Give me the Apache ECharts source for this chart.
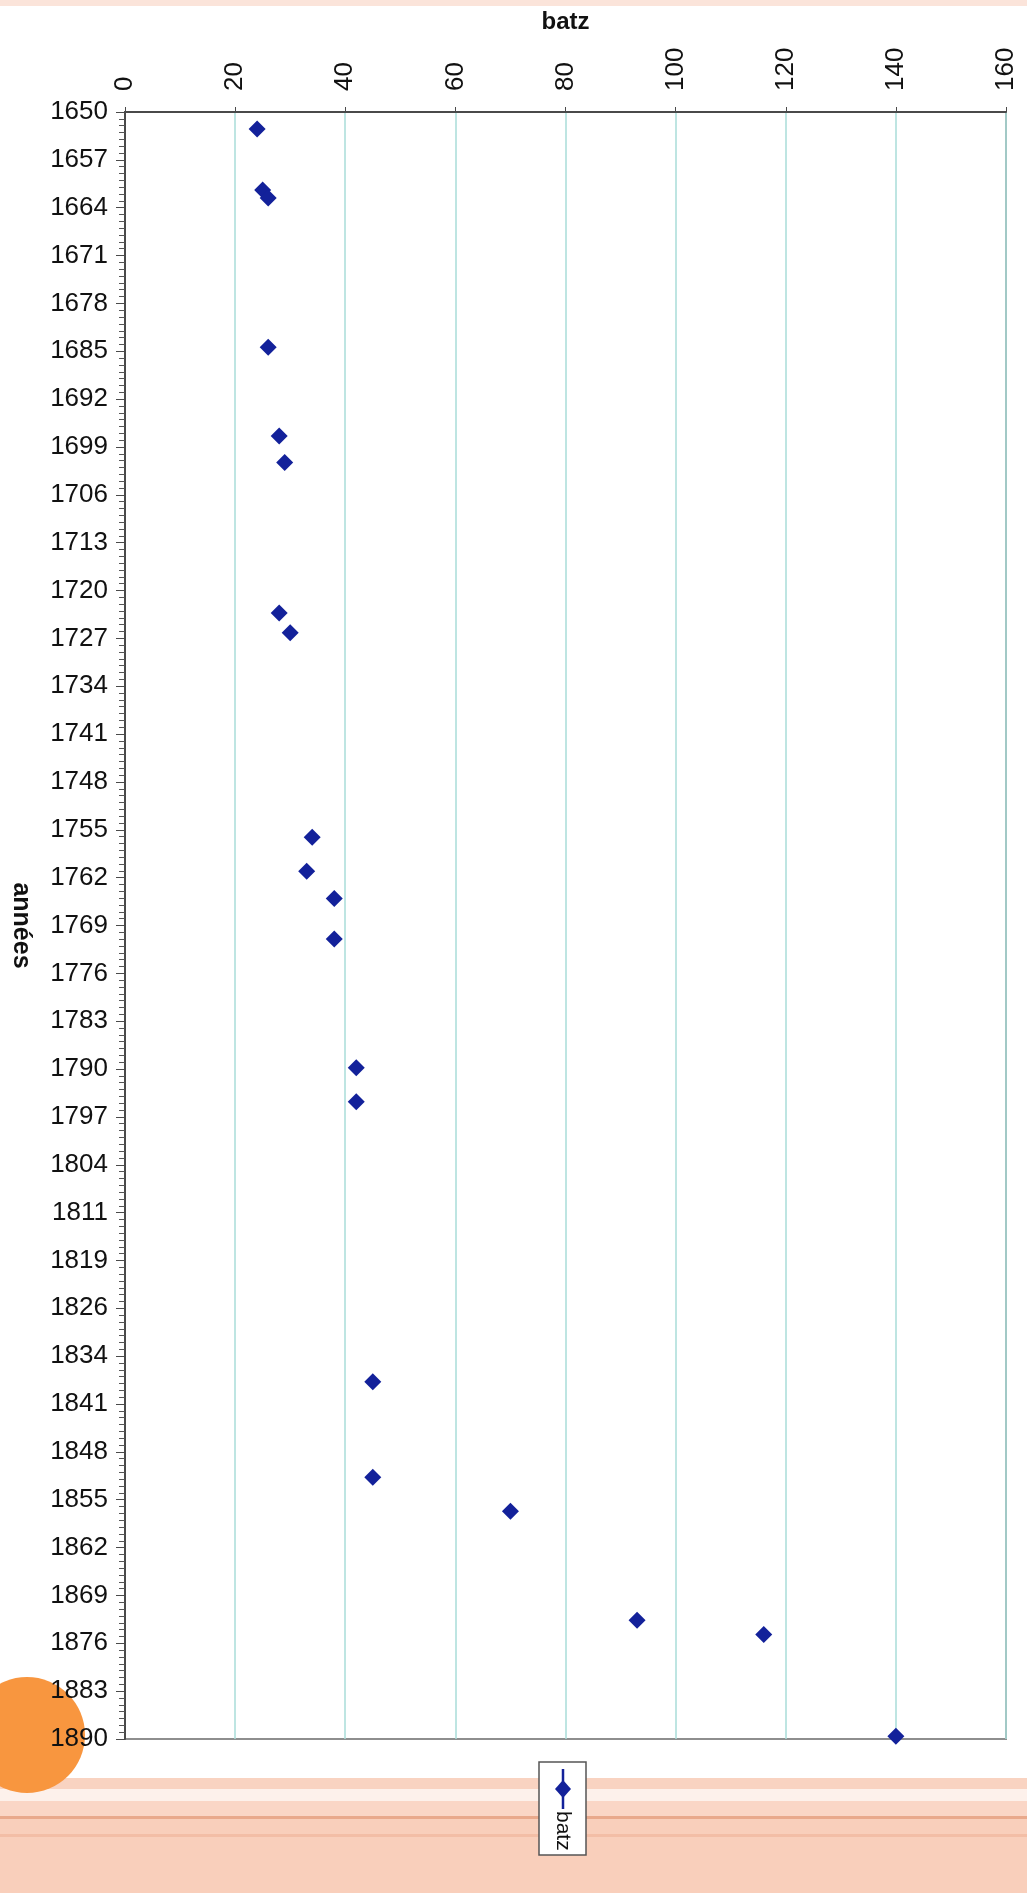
<!DOCTYPE html>
<html>
<head>
<meta charset="utf-8">
<title>batz</title>
<script src="https://cdn.jsdelivr.net/npm/echarts@6/dist/echarts.min.js"></script>
<style>
  html, body { margin: 0; padding: 0; background: #ffffff; }
  #chart { width: 1027px; height: 1893px; }
</style>
</head>
<body>
<div id="chart"></div>
<script>
// Year labels along the vertical axis (34 equal steps from 1650 to 1890)
const yearTickLabels = ['1650', '1657', '1664', '1671', '1678', '1685', '1692', '1699', '1706', '1713',
  '1720', '1727', '1734', '1741', '1748', '1755', '1762', '1769', '1776', '1783',
  '1790', '1797', '1804', '1811', '1819', '1826', '1834', '1841', '1848', '1855',
  '1862', '1869', '1876', '1883', '1890'];

// Observations: year and value in batz
const years = [1652.5, 1661.5, 1662.7, 1684.7, 1697.8, 1701.7, 1723.9, 1726.8, 1757, 1762,
  1766, 1772, 1791, 1796, 1837.3, 1851.4, 1856.4, 1872.5, 1874.6, 1889.6];
const batz = [24, 25, 26, 26, 28, 29, 28, 30, 34, 33,
  38, 38, 42, 42, 45, 45, 70, 93, 116, 140];

const seriesName = 'batz';
const markerColor = '#13219a';
const fontFamily = 'Liberation Sans, Arial, sans-serif';

const chart = echarts.init(document.getElementById('chart'), null, { renderer: 'canvas' });

const points = years.map((y, i) => [batz[i], y]);

const option = {
  animation: false,
  backgroundColor: '#ffffff',
  textStyle: { fontFamily: fontFamily },
  grid: {
    left: 118, right: 21, top: 112, bottom: 154,
    show: true, borderColor: '#8e8e8e', borderWidth: 2, backgroundColor: '#ffffff'
  },
  xAxis: {
    type: 'value', position: 'top', min: 0, max: 160, interval: 20,
    name: 'batz', nameLocation: 'middle', nameGap: 78,
    nameTextStyle: { fontSize: 24, fontWeight: 'bold', color: '#111111' },
    axisLine: { show: true, onZero: false, lineStyle: { color: '#4a4a4a', width: 2 } },
    axisTick: { show: true, length: 5, lineStyle: { color: '#4a4a4a' } },
    axisLabel: { rotate: -90, margin: 21, fontSize: 26, color: '#111111' },
    splitLine: { show: true, lineStyle: { color: '#a9dcd9', width: 1.5 } }
  },
  yAxis: [
    { // data axis in years
      type: 'value', min: 1650, max: 1890, inverse: true, position: 'right', show: false
    },
    { // labelled year axis
      type: 'value', min: 0, max: yearTickLabels.length - 1, interval: 1, inverse: true,
      position: 'left',
      name: 'années', nameLocation: 'middle', nameRotate: -90, nameGap: 92,
      nameTextStyle: { fontSize: 25, fontWeight: 'bold', color: '#111111' },
      axisLine: { show: true, onZero: false, lineStyle: { color: '#4a4a4a', width: 2 } },
      axisTick: { show: true, length: 9, lineStyle: { color: '#4a4a4a' } },
      minorTick: { show: true, splitNumber: 7, length: 6, lineStyle: { color: '#555555' } },
      axisLabel: {
        fontSize: 26, color: '#111111', margin: 17, padding: [12, 0, 0, 0],
        formatter: (v) => yearTickLabels[Math.round(v)]
      },
      splitLine: { show: false }
    }
  ],
  series: [{
    name: seriesName, type: 'scatter', xAxisIndex: 0, yAxisIndex: 0,
    data: points, symbol: 'diamond', symbolSize: 17,
    itemStyle: { color: markerColor, opacity: 1 }, z: 5
  }],
  graphic: [
    // page decoration: top band, bottom stripes and orange disc
    { type: 'rect', z: -10, silent: true, shape: { x: 0, y: 0, width: 1027, height: 6 }, style: { fill: '#fbe4da' } },
    { type: 'rect', z: -10, silent: true, shape: { x: 0, y: 1778, width: 1027, height: 11 }, style: { fill: '#f9d3c1' } },
    { type: 'rect', z: -10, silent: true, shape: { x: 0, y: 1789, width: 1027, height: 12 }, style: { fill: '#fdf1eb' } },
    { type: 'rect', z: -10, silent: true, shape: { x: 0, y: 1801, width: 1027, height: 15 }, style: { fill: '#fad6c6' } },
    { type: 'rect', z: -10, silent: true, shape: { x: 0, y: 1816, width: 1027, height: 3 }, style: { fill: '#e9a98c' } },
    { type: 'rect', z: -10, silent: true, shape: { x: 0, y: 1819, width: 1027, height: 15 }, style: { fill: '#f9cfbb' } },
    { type: 'rect', z: -10, silent: true, shape: { x: 0, y: 1834, width: 1027, height: 3 }, style: { fill: '#f3bea6' } },
    { type: 'rect', z: -10, silent: true, shape: { x: 0, y: 1837, width: 1027, height: 56 }, style: { fill: '#f9cfbb' } },
    { type: 'circle', z: -10, silent: true, shape: { cx: 27, cy: 1735, r: 58 }, style: { fill: '#f8963f' } },
    // legend box
    {
      type: 'group', z: 10,
      children: [
        { type: 'rect', shape: { x: 539, y: 1762, width: 47, height: 93 }, style: { fill: '#ffffff', stroke: '#555555', lineWidth: 1.5 } },
        { type: 'line', shape: { x1: 563, y1: 1769, x2: 563, y2: 1809 }, style: { stroke: markerColor, lineWidth: 2.5 } },
        { type: 'polygon', shape: { points: [[563, 1780], [571, 1789], [563, 1798], [555, 1789]] }, style: { fill: markerColor } },
        {
          type: 'text', x: 563, y: 1811, rotation: -Math.PI / 2,
          style: { text: seriesName, fontSize: 21, fill: '#111111', align: 'left', verticalAlign: 'middle', fontFamily: fontFamily }
        }
      ]
    }
  ]
};

chart.setOption(option);
</script>
</body>
</html>
